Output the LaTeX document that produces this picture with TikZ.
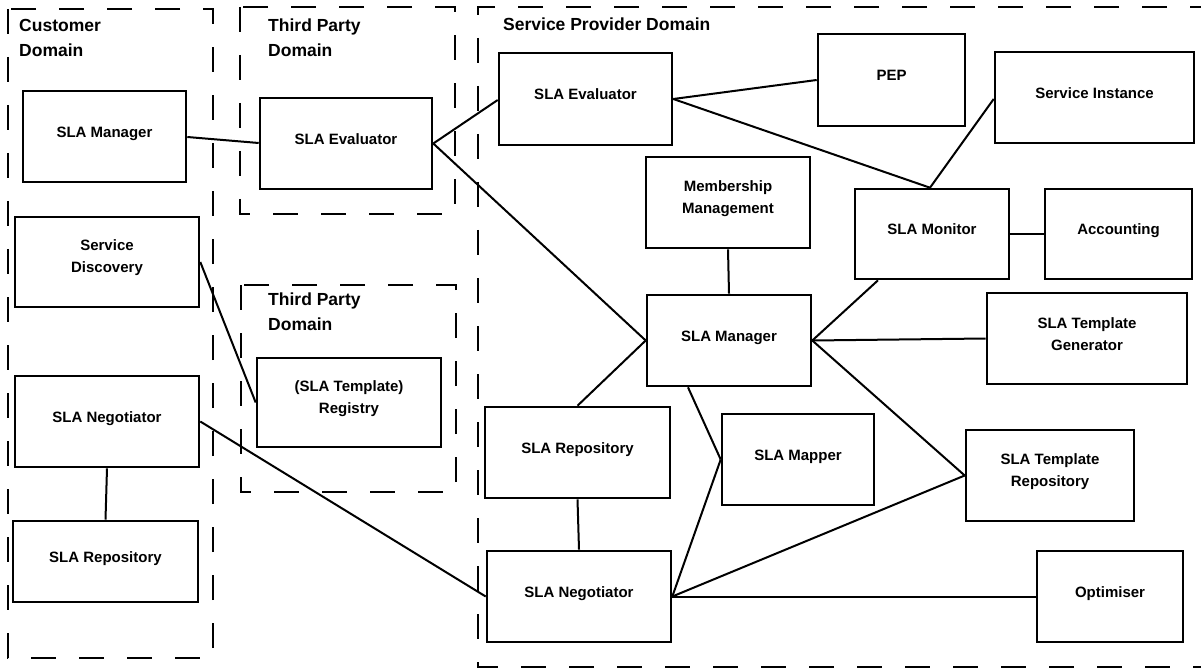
\documentclass[tikz,border=0pt]{standalone}
\usepackage{fontspec}
\setmainfont{Liberation Sans}
\begin{document}
\begin{tikzpicture}[x=1pt,y=-1pt,
  box/.style={draw=black,line width=2.6pt,inner sep=0pt},
  lbl/.style={font=\fontsize{15}{22}\selectfont\bfseries,align=center,inner sep=0pt},
  dom/.style={draw=black,line width=2.4pt,dash pattern=on 25pt off 23pt},
  domlbl/.style={font=\fontsize{17.5}{25}\selectfont\bfseries,align=left,anchor=north west,inner sep=0pt},
  link/.style={draw=black,line width=2pt}]
\useasboundingbox (0,0) rectangle (1201,668);
% domains
\draw[dom] (8,9) rectangle (213,658);
\draw[dom] (240,7) rectangle (455,214);
\draw[dom] (241,285) rectangle (456,492);
\draw[dom] (1215,7) -- (478,7) -- (478,667) -- (1215,667);
\node[domlbl] (cdl) at (19,19) {Customer\\Domain};
\node[domlbl] (tdl1) at (268,19) {Third Party\\Domain};
\node[domlbl] (tdl2) at (268,293) {Third Party\\Domain};
\node[domlbl] (spl) at (503,18) {Service Provider Domain};
% boxes
\newcommand{\bx}[6]{\node[box,minimum width=#4pt,minimum height=#5pt] (#1) at (#2,#3) {};
  \node[lbl,text height=11pt,text depth=3pt] (#1t) at ([yshift=3pt]#1.center) {#6};}
\newcommand{\bxx}[6]{\node[box,minimum width=#4pt,minimum height=#5pt] (#1) at (#2,#3) {};
  \node[lbl] (#1t) at ([yshift=4pt]#1.center) {#6};}
\bx{cmgr}{104.5}{136.5}{163}{91}{SLA Manager}
\bx{tev}{346}{143.5}{172}{91}{SLA Evaluator}
\bxx{sdisc}{107}{262}{184}{90}{Service\\Discovery}
\bx{cneg}{107}{421.5}{184}{91}{SLA Negotiator}
\bx{crep}{105.5}{561.5}{185}{81}{SLA Repository}
\bxx{reg}{349}{402.5}{184}{89}{(SLA Template)\\Registry}
\bx{sev}{585.5}{99}{173}{92}{SLA Evaluator}
\bx{pep}{891.5}{80}{147}{92}{PEP}
\bx{sinst}{1094.5}{97.5}{199}{91}{Service Instance}
\bxx{memb}{728}{202.5}{164}{91}{Membership\\Management}
\bx{smon}{932}{234}{154}{90}{SLA Monitor}
\bx{acct}{1118.5}{234}{147}{90}{Accounting}
\bx{smgr}{729}{340.5}{164}{91}{SLA Manager}
\bxx{stgen}{1087}{338.5}{200}{91}{SLA Template\\Generator}
\bx{srep}{577.5}{452.5}{185}{91}{SLA Repository}
\bx{smap}{798}{459.5}{152}{91}{SLA Mapper}
\bxx{strep}{1050}{475.5}{168}{91}{SLA Template\\Repository}
\bx{sneg}{579}{596.5}{184}{91}{SLA Negotiator}
\bx{opt}{1110}{596.5}{146}{91}{Optimiser}
% connectors
\draw[link] ([yshift=-0.5pt]cmgr.east) -- ([yshift=0.5pt]tev.west);
\draw[link] (tev.east) -- ([yshift=-1pt]sev.west);
\draw[link] (tev.east) -- (smgr.west);
\draw[link] (sev.east) -- ([yshift=0pt]pep.west);
\draw[link] (sev.east) -- ([xshift=-2pt]smon.north);
\draw[link] ([yshift=-1.5pt]sinst.west) -- ([xshift=-2pt]smon.north);
\draw[link] (smon.east) -- (acct.west);
\draw[link] (memb.south) -- (smgr.north);
\draw[link] ([xshift=-54pt]smon.south) -- (smgr.east);
\draw[link] (smgr.east) -- (stgen.west);
\draw[link] (smgr.east) -- (strep.west);
\draw[link] (smgr.west) -- (srep.north);
\draw[link] ([xshift=-41pt]smgr.south) -- (smap.west);
\draw[link] (srep.south) -- (sneg.north);
\draw[link] (sneg.east) -- (smap.west);
\draw[link] (sneg.east) -- (strep.west);
\draw[link] (sneg.east) -- (opt.west);
\draw[link] (cneg.east) -- (sneg.west);
\draw[link] (cneg.south) -- (crep.north);
\draw[link] (sdisc.east) -- (reg.west);
\end{tikzpicture}
\end{document}
